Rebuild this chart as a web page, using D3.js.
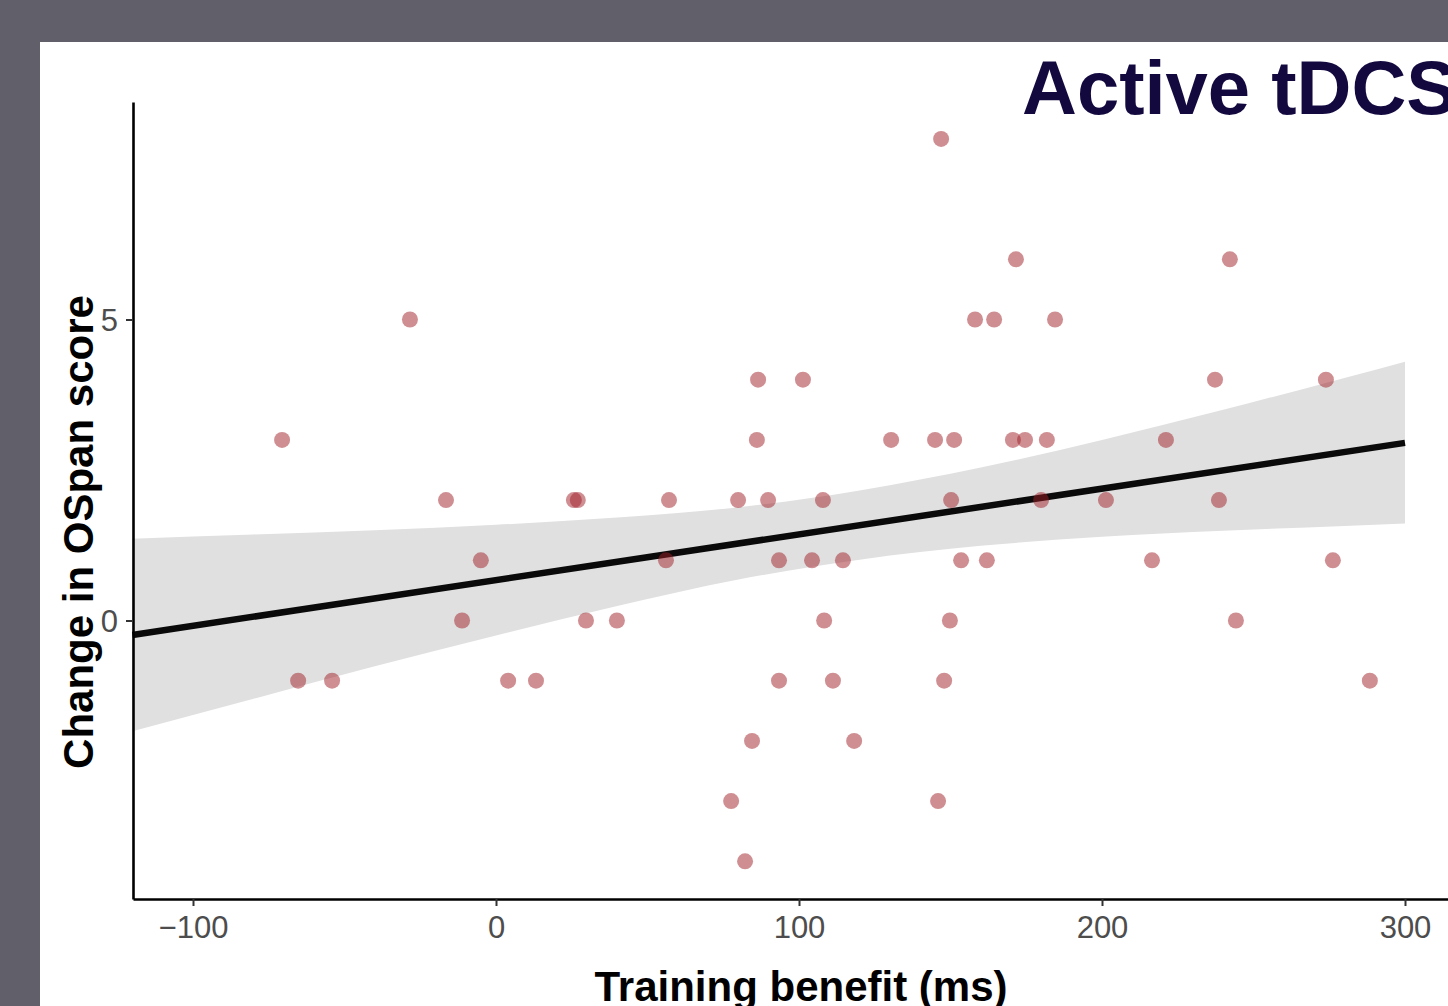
<!DOCTYPE html>
<html>
<head>
<meta charset="utf-8">
<script src="https://cdn.jsdelivr.net/npm/d3@7"></script>
<style>
	body { margin: 0; background: #615f6a; }
	svg { display: block; }
</style>
</head>
<body>
<div id="chart"></div>
<script>
// Training benefit (ms) vs change in OSpan score, active tDCS group

const benefit = [
	-70.6, -65.3, -54.1, -28.4, -16.5, -11.2, -5, 4, 13.2, 25.7,
	27, 29.7, 39.9, 56.1, 57.1, 77.6, 79.9, 82.2, 84.5, 86.1,
	86.5, 89.8, 93.4, 93.4, 101.3, 104.3, 107.9, 108.3, 111.2, 114.5,
	118.2, 130.4, 144.9, 145.9, 146.9, 147.9, 149.8, 150.2, 151.2, 153.5,
	158.1, 162, 164.4, 170.6, 171.6, 174.6, 179.9, 181.8, 184.5, 201.3,
	216.5, 221.1, 237.3, 238.6, 242.2, 244.2, 273.9, 276.2, 288.4
]
const ospanChange = [
	3, -1, -1, 5, 2, 0, 1, -1, -1, 2,
	2, 0, 0, 1, 2, -3, 2, -4, -2, 3,
	4, 2, 1, -1, 4, 1, 2, 0, -1, 1,
	-2, 3, 3, -3, 8, -1, 0, 2, 3, 1,
	5, 1, 5, 3, 6, 3, 2, 3, 5, 2,
	1, 3, 4, 2, 6, 0, 4, 1, -1
]

// fitted line and confidence band
const fitX = [-120, 300]
const fitY = [-0.24, 2.95]
const bandX = [-120, -80, -40, 0, 40, 80, 120, 160, 200, 240, 280, 300]
const bandUpper = [1.36, 1.43, 1.5, 1.59, 1.71, 1.88, 2.16, 2.54, 3.0, 3.5, 4.03, 4.3]
const bandLower = [-1.84, -1.3, -0.76, -0.25, 0.24, 0.68, 1.01, 1.24, 1.39, 1.49, 1.57, 1.61]

const xTicks = [-100, 0, 100, 200, 300]
const yTicks = [0, 5]

const svgWidth = 1448
const svgHeight = 1006

const svg = d3
	.select('#chart')
	.append('svg')
	.attr('width', svgWidth)
	.attr('height', svgHeight)

svg
	.append('rect')
	.attr('x', 40)
	.attr('y', 42)
	.attr('width', svgWidth - 40)
	.attr('height', svgHeight - 42)
	.attr('fill', '#ffffff')

const x = d3.scaleLinear().domain([-100, 300]).range([193, 1405])
const y = d3.scaleLinear().domain([0, 5]).range([620.5, 319.5])

const left = 133
const bottom = 899

// confidence band
const band = d3
	.area()
	.x((d, i) => x(bandX[i]))
	.y0((d, i) => y(bandLower[i]))
	.y1((d, i) => y(bandUpper[i]))
	.curve(d3.curveMonotoneX)

svg
	.append('path')
	.datum(bandX)
	.attr('fill', '#e0e0e0')
	.attr('d', band)

// regression line
const line = d3
	.line()
	.x((d, i) => x(fitX[i]))
	.y((d, i) => y(fitY[i]))

svg
	.append('path')
	.datum(fitX)
	.attr('fill', 'none')
	.attr('stroke', '#0a0a0a')
	.attr('stroke-width', 6.5)
	.attr('d', line)

// points
svg
	.selectAll('.dot')
	.data(benefit)
	.enter()
	.append('circle')
	.attr('class', 'dot')
	.attr('cx', (d) => x(d))
	.attr('cy', (d, i) => y(ospanChange[i]))
	.attr('r', 8)
	.attr('fill', '#a01e26')
	.attr('fill-opacity', 0.5)

// axes
const xAxisScale = x.copy().domain([x.invert(left), x.invert(svgWidth + 2)]).range([left, svgWidth + 2])
const yAxisScale = y.copy().domain([y.invert(bottom), y.invert(102)]).range([bottom, 102])

const xAxis = svg
	.append('g')
	.attr('transform', `translate(0,${bottom})`)
	.call(d3.axisBottom(xAxisScale).tickValues(xTicks).tickSize(7).tickSizeOuter(0).tickPadding(10))

const yAxis = svg
	.append('g')
	.attr('transform', `translate(${left},0)`)
	.call(d3.axisLeft(yAxisScale).tickValues(yTicks).tickSize(7).tickSizeOuter(0).tickPadding(8))

;[xAxis, yAxis].forEach((g) => {
	g.select('.domain').attr('stroke', '#000').attr('stroke-width', 2.6)
	g.selectAll('.tick line').attr('stroke', '#333').attr('stroke-width', 2)
	g.selectAll('.tick text')
		.attr('fill', '#4d4d4d')
		.style('font-family', '"Liberation Sans", Arial, sans-serif')
		.style('font-size', '31px')
})
yAxis.selectAll('.tick text').attr('dy', '0.36em')

// labels
svg
	.append('text')
	.attr('x', 801)
	.attr('y', 1001)
	.attr('text-anchor', 'middle')
	.style('font-family', '"Liberation Sans", Arial, sans-serif')
	.style('font-weight', 'bold')
	.style('font-size', '42px')
	.attr('fill', '#000')
	.text('Training benefit (ms)')

svg
	.append('text')
	.attr('transform', 'translate(93,532) rotate(-90)')
	.attr('text-anchor', 'middle')
	.style('font-family', '"Liberation Sans", Arial, sans-serif')
	.style('font-weight', 'bold')
	.style('font-size', '42px')
	.attr('fill', '#000')
	.text('Change in OSpan score')

svg
	.append('text')
	.attr('x', 1022)
	.attr('y', 114)
	.style('font-family', '"Liberation Sans", Arial, sans-serif')
	.style('font-weight', 'bold')
	.style('font-size', '76px')
	.attr('fill', '#13093f')
	.text('Active tDCS')
</script>
</body>
</html>
